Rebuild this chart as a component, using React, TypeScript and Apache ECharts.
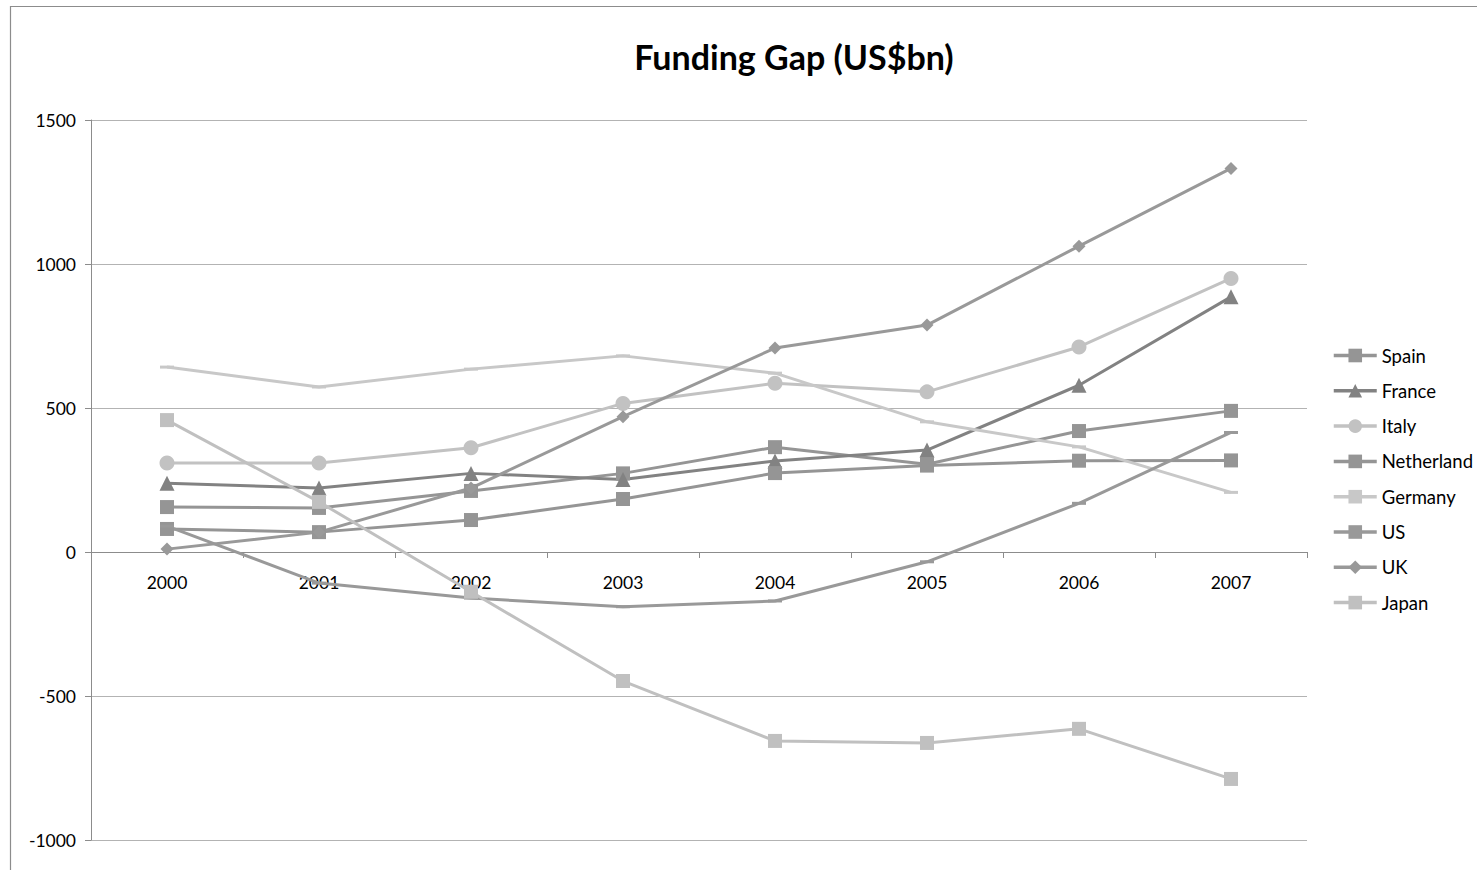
import React, { useEffect, useRef } from "react";
import * as echarts from "echarts";

const years = ["2000", "2001", "2002", "2003", "2004", "2005", "2006", "2007"];
const spain = [156, 153, 212, 273, 364, 305, 420, 490];
const france = [239, 222, 273, 252, 316, 354, 579, 886];
const italy = [309, 309, 362, 516, 586, 556, 712, 950];
const netherland = [80, 69, 111, 184, 274, 300, 317, 318];
const germany = [642, 573, 635, 681, 621, 452, 365, 207];
const us = [90, -108, -160, -190, -170, -34, 169, 415];
const uk = [10, 69, 222, 470, 708, 788, 1062, 1332];
const japan = [458, 174, -138, -448, -656, -663, -614, -788];
const yTicks = { min: -1000, max: 1500, interval: 500 };

const FONT = "Lato, 'Open Sans', sans-serif";
const GRID_TOP = 120;
const GRID_BOTTOM_PX = 840;

export default function App() {
  const ref = useRef<HTMLDivElement>(null);
  useEffect(() => {
    if (!ref.current) return;
    const chart = echarts.init(ref.current, undefined, { renderer: "svg" });
    const mk = (
      name: string,
      data: number[],
      color: string,
      symbol: string,
      symbolSize: any
    ) => ({
      name,
      type: "line",
      data,
      symbol,
      symbolSize,
      showAllSymbol: true,
      lineStyle: { color, width: 3 },
      itemStyle: { color },
      emphasis: { disabled: true },
    });
    // pixel offset of the zero line from the grid's bottom edge
    const zeroOffset =
      ((0 - yTicks.min) / (yTicks.max - yTicks.min)) * (GRID_BOTTOM_PX - GRID_TOP);
    chart.setOption({
      animation: false,
      textStyle: { fontFamily: FONT },
      title: {
        text: "Funding Gap (US$bn)",
        left: 789,
        top: 34,
        textAlign: "center",
        textStyle: { fontSize: 34, fontWeight: "bold", color: "#000", fontFamily: FONT },
      },
      graphic: [
        {
          type: "rect",
          shape: { x: 10.5, y: 6.5, width: 1600, height: 1000 },
          style: { fill: "none", stroke: "#8c8c8c", lineWidth: 1.2 },
          silent: true,
        },
      ],
      legend: {
        orient: "vertical",
        left: 1327,
        top: 341,
        itemWidth: 43,
        itemHeight: 17,
        itemGap: 16.3,
        lineStyle: { width: 3.5 },
        textStyle: { fontSize: 18.5, color: "#000", fontFamily: FONT, padding: [0, 0, 0, 0] },
        data: ["Spain", "France", "Italy", "Netherland", "Germany", "US", "UK", "Japan"],
      },
      grid: { left: 91, right: 170, top: GRID_TOP, bottom: 870 - GRID_BOTTOM_PX, containLabel: false },
      xAxis: {
        type: "category",
        data: years,
        boundaryGap: true,
        position: "bottom",
        offset: -zeroOffset,
        axisLine: { onZero: false, lineStyle: { color: "#8c8c8c", width: 1 } },
        axisTick: { show: true, length: 6, interval: 0, lineStyle: { color: "#8c8c8c" } },
        axisLabel: { fontSize: 17.5, color: "#000", margin: 21, fontFamily: FONT },
        splitLine: { show: false },
      },
      yAxis: {
        type: "value",
        min: yTicks.min,
        max: yTicks.max,
        interval: yTicks.interval,
        axisLine: { show: true, lineStyle: { color: "#8c8c8c" } },
        axisTick: { show: true, length: 6, lineStyle: { color: "#8c8c8c" } },
        axisLabel: {
          fontSize: 17.5,
          color: "#000",
          margin: 15,
          fontFamily: FONT,
          formatter: (v: number) => String(v),
        },
        splitLine: { show: true, lineStyle: { color: "#b3b3b3", width: 1 } },
      },
      series: [
        mk("Spain", spain, "#959595", "rect", 14),
        mk("France", france, "#828282", "triangle", 15),
        mk("Italy", italy, "#c2c2c2", "circle", 15),
        mk("Netherland", netherland, "#959595", "rect", 14),
        mk("Germany", germany, "#c8c8c8", "rect", [14, 3]),
        mk("US", us, "#999999", "rect", [14, 3]),
        mk("UK", uk, "#999999", "diamond", 13),
        mk("Japan", japan, "#c0c0c0", "rect", 14),
      ],
    });
    return () => chart.dispose();
  }, []);
  return (
    <div
      ref={ref}
      style={{ position: "absolute", left: 0, top: 0, width: 1477, height: 870, background: "#fff" }}
    />
  );
}
